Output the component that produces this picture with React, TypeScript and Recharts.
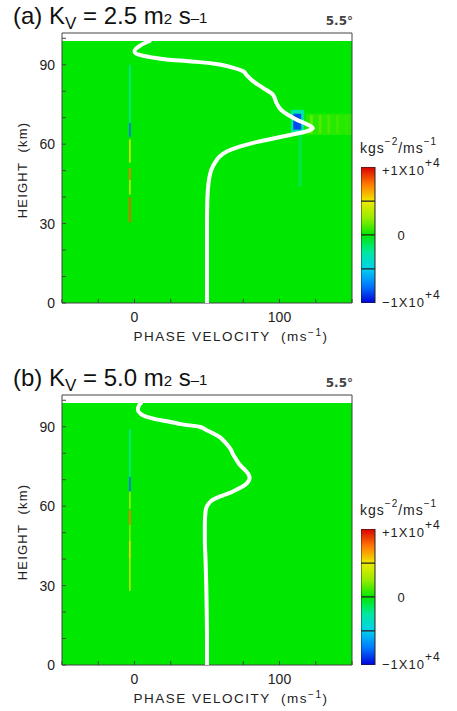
import React from "react"
import {
  ComposedChart, Scatter, XAxis, YAxis, ReferenceArea, Label,
  BarChart, Bar,
} from "recharts"

const FONT = '"Liberation Sans", Arial, Helvetica, sans-serif'
const AXIS = "#444"
const TEXT = "#222"

// axes
const velocityTicks = [-50, -25, 0, 25, 50, 75, 100, 125, 150]
const velocityLabels = [0, 100]
const heightTicks = [0, 10, 20, 30, 40, 50, 60, 70, 80, 90, 100]
const heightLabels = [0, 30, 60, 90]
const velocityRange = [-50, 150]
const heightRange = [0, 102]
const modelTop = 99 // km, top of the computed field

// background wind profile, [height km, phase velocity m/s]
const profileA: [number, number][] = [
  [0, 50], [10, 50], [20, 50], [30, 50], [38, 50.2], [42.7, 50.6], [47, 51.5],
  [50.3, 53], [53, 55.5], [55.3, 58.7], [57.3, 64], [59.1, 72.5], [60.5, 82],
  [61.6, 91], [63, 103], [64.2, 114], [65.3, 121], [66.1, 123], [67, 121],
  [68, 117], [69.2, 112], [71, 106], [73, 101], [75.5, 98], [78.7, 95.5],
  [81.3, 88.6], [83.8, 81.7], [86, 77.5], [87.6, 74.8], [89, 67], [90.1, 58.7],
  [91, 45], [91.4, 35.7], [92, 22], [92.7, 12.6], [93.4, 6], [93.9, 2.3],
  [94.6, 0.3], [95.2, 0], [96.2, 1.2], [97.1, 3.5], [98, 6.5], [99, 10.4],
]

const profileB: [number, number][] = [
  [0, 50], [10, 50], [20, 49.8], [30, 49.5], [40, 49], [47.3, 48.5], [53, 48.5],
  [58, 49], [60.5, 50.5], [62.4, 54], [63.8, 59.5], [65, 65.6], [66.3, 70.5],
  [67.5, 74.8], [69, 78], [70.6, 79.4], [72.2, 78.5], [73.8, 76], [75.7, 72.5],
  [77.6, 70.2], [79.5, 68], [81.3, 66.5], [83.2, 64], [85, 61], [86.2, 58.6],
  [87.6, 54], [88.8, 49.4], [90, 44.8], [90.9, 33], [91.9, 24.1], [92.8, 15],
  [93.8, 8], [95, 4], [96.4, 2.3], [98.3, 3.4], [99, 4.5],
]

// momentum flux patches (normalised to 1e4 kg s^-2 / m s^-1)
type Flux = { v1: number; v2: number; h1: number; h2: number; value: number }

const fluxA: Flux[] = [
  { v1: -3.8, v2: -2.6, h1: 68, h2: 90, value: -0.22 },
  { v1: -3.8, v2: -2.6, h1: 62.8, h2: 68, value: -0.75 },
  { v1: -3.8, v2: -2.6, h1: 53, h2: 61.8, value: 0.4 },
  { v1: -3.8, v2: -2.6, h1: 46.5, h2: 51, value: 0.75 },
  { v1: -3.8, v2: -2.6, h1: 41, h2: 46.5, value: 0.35 },
  { v1: -3.8, v2: -2.6, h1: 30.5, h2: 40, value: 0.8 },
  { v1: 118, v2: 150, h1: 63.5, h2: 71.5, value: 0.06 },
  { v1: 121, v2: 123, h1: 64, h2: 71, value: 0.16 },
  { v1: 127, v2: 129, h1: 64, h2: 71, value: 0.14 },
  { v1: 133, v2: 135, h1: 64, h2: 71, value: 0.12 },
  { v1: 139, v2: 141, h1: 64, h2: 71, value: 0.1 },
  { v1: 145, v2: 147, h1: 64, h2: 71, value: 0.08 },
  { v1: 113, v2: 115.5, h1: 44, h2: 64, value: -0.1 },
  { v1: 108, v2: 117, h1: 64.5, h2: 73, value: -0.28 },
  { v1: 109.5, v2: 115, h1: 65.5, h2: 71.5, value: -0.85 },
]

const fluxB: Flux[] = [
  { v1: -3.8, v2: -2.6, h1: 71, h2: 89, value: -0.22 },
  { v1: -3.8, v2: -2.6, h1: 65.5, h2: 71, value: -0.75 },
  { v1: -3.8, v2: -2.6, h1: 59, h2: 65.5, value: 0.25 },
  { v1: -3.8, v2: -2.6, h1: 53, h2: 58.5, value: 0.75 },
  { v1: -3.8, v2: -2.6, h1: 47, h2: 53, value: 0.2 },
  { v1: -3.8, v2: -2.6, h1: 40, h2: 47, value: 0.55 },
  { v1: -3.8, v2: -2.6, h1: 28, h2: 40, value: 0.3 },
]

// colour bar
const colorbarTicks = [-1, 0, 1]
const colorbarSegments = [
  { key: "s1", lo: 0, hi: 0.5 },
  { key: "s2", lo: 0.5, hi: 1 },
  { key: "s3", lo: -0.5, hi: 0 },
  { key: "s4", lo: -1, hi: -0.5 },
]
const colorbarData = [
  colorbarSegments.reduce(
    (row: any, s) => ({ ...row, [s.key]: s.lo >= 0 ? s.hi - s.lo : s.lo - s.hi }),
    { name: "cb" }
  ),
]

const colorStops: [number, string][] = [
  [-1, "#0000d8"], [-0.75, "#0078ff"], [-0.5, "#00d0f0"], [-0.25, "#00e8a0"],
  [0, "#00e800"], [0.25, "#98ec00"], [0.5, "#f0e800"], [0.75, "#ff7800"], [1, "#d80000"],
]

const hexToRgb = (h: string) => [1, 3, 5].map((i) => parseInt(h.slice(i, i + 2), 16))

const colorFor = (value: number) => {
  const t = Math.max(-1, Math.min(1, value))
  for (let i = 0; i < colorStops.length - 1; i++) {
    const [a, ca] = colorStops[i]
    const [b, cb] = colorStops[i + 1]
    if (t >= a && t <= b) {
      const f = (t - a) / (b - a)
      const A = hexToRgb(ca)
      const B = hexToRgb(cb)
      return `rgb(${A.map((x, k) => Math.round(x + (B[k] - x) * f)).join(",")})`
    }
  }
  return colorStops[colorStops.length - 1][1]
}

const toPoints = (p: [number, number][]) => p.map(([h, v]) => ({ h, v }))

const NoDot = () => <g />

const VelocityLabel = (props: any) => {
  const vb = props.viewBox ?? { x: 62, y: 303, width: 290, height: 45 }
  const cx = vb.x + vb.width / 2 + 24
  const y = vb.y + 38
  return (
    <text x={cx} y={y} textAnchor="middle" fontSize={13.5} letterSpacing={1.5}
      fill={TEXT} fontFamily={FONT} style={{ whiteSpace: "pre" }}>
      {"PHASE VELOCITY  (ms"}
      <tspan dy={-5} fontSize={10}>−1</tspan>
      <tspan dy={5}>)</tspan>
    </text>
  )
}

const HeightLabel = (props: any) => {
  const vb = props.viewBox ?? { x: 0, y: 33, width: 62, height: 270 }
  const cx = vb.x + 22
  const cy = vb.y + vb.height / 2 + 2
  return (
    <text x={cx} y={cy} transform={`rotate(-90 ${cx} ${cy})`} textAnchor="middle"
      dominantBaseline="central" fontSize={13} letterSpacing={1.2} fill={TEXT}
      fontFamily={FONT} style={{ whiteSpace: "pre" }}>
      {"HEIGHT  (km)"}
    </text>
  )
}

const ColorbarTick = (props: any) => {
  const { x, y, payload } = props
  const v = payload.value
  if (v === 0) {
    return (
      <text x={x + 19} y={y + 5} textAnchor="middle" fontSize={13} fill={TEXT} fontFamily={FONT}>0</text>
    )
  }
  const dy = v > 0 ? 8 : 3.5
  return (
    <text x={x} y={y + dy} fontSize={13} letterSpacing={1} fill={TEXT} fontFamily={FONT}>
      {v > 0 ? "+1X10" : "−1X10"}
      <tspan dy={-8} fontSize={12}>+4</tspan>
    </text>
  )
}

const Colorbar = ({ id }: { id: string }) => (
  <BarChart width={96} height={160} data={colorbarData} stackOffset="sign" barCategoryGap={0}
    margin={{ top: 12, right: 0, bottom: 12, left: 0 }}>
    <defs>
      {colorbarSegments.map((s) => (
        <linearGradient key={s.key} id={`${id}-${s.key}`} x1="0" y1="0" x2="0" y2="1">
          <stop offset="0%" stopColor={colorFor(s.hi)} />
          <stop offset="50%" stopColor={colorFor((s.hi + s.lo) / 2)} />
          <stop offset="100%" stopColor={colorFor(s.lo)} />
        </linearGradient>
      ))}
    </defs>
    <XAxis dataKey="name" type="category" hide />
    <YAxis orientation="right" type="number" domain={[-1, 1]} ticks={colorbarTicks} interval={0}
      width={82} axisLine={false} tickLine={false} tickSize={0} tickMargin={7}
      tick={<ColorbarTick />} allowDataOverflow />
    {colorbarSegments.map((s) => (
      <Bar key={s.key} dataKey={s.key} stackId="cb" fill={`url(#${id}-${s.key})`}
        stroke="#222" strokeWidth={1} isAnimationActive={false} />
    ))}
  </BarChart>
)

type PanelProps = {
  id: string
  top: number
  tag: string
  kv: string
  profile: [number, number][]
  flux: Flux[]
}

const Panel = ({ id, top, tag, kv, profile, flux }: PanelProps) => (
  <div style={{ position: "absolute", left: 0, top, width: 457, height: 349 }}>
    <ComposedChart width={457} height={348} margin={{ top: 28, right: 100, bottom: 0, left: 0 }}>
      <ReferenceArea x1={-50} x2={150} y1={0} y2={modelTop} fill={colorFor(0)}
        fillOpacity={1} stroke="none" />
      {flux.map((f, i) => (
        <ReferenceArea key={i} x1={f.v1} x2={f.v2} y1={f.h1} y2={f.h2}
          fill={colorFor(f.value)} fillOpacity={1} stroke="none" />
      ))}
      <Scatter data={toPoints(profile)} fill="#fff" shape={NoDot}
        line={{ stroke: "#fff", strokeWidth: 4, strokeLinecap: "round" }}
        lineJointType="monotoneY" isAnimationActive={false} />

      <XAxis type="number" dataKey="v" domain={velocityRange} ticks={velocityTicks} interval={0}
        allowDataOverflow height={45} tickSize={-4} tickMargin={13}
        axisLine={{ stroke: AXIS }} tickLine={{ stroke: AXIS }}
        tick={{ fontSize: 14, fill: TEXT, fontFamily: FONT }}
        tickFormatter={(v: number) => (velocityLabels.includes(v) ? String(v) : "")}>
        <Label content={VelocityLabel} />
      </XAxis>
      <XAxis xAxisId="top" orientation="top" type="number" domain={velocityRange}
        ticks={velocityTicks} interval={0} allowDataOverflow height={5} tickSize={-4}
        tick={false} axisLine={{ stroke: AXIS }} tickLine={{ stroke: AXIS }} />
      <YAxis type="number" dataKey="h" domain={heightRange} ticks={heightTicks} interval={0}
        allowDataOverflow width={62} tickSize={-4} tickMargin={11}
        axisLine={{ stroke: AXIS }} tickLine={{ stroke: AXIS }}
        tick={{ fontSize: 14, fill: TEXT, fontFamily: FONT }}
        tickFormatter={(v: number) => (heightLabels.includes(v) ? String(v) : "")}>
        <Label content={HeightLabel} />
      </YAxis>
      <YAxis yAxisId="right" orientation="right" type="number" domain={heightRange}
        ticks={heightTicks} interval={0} allowDataOverflow width={5} tickSize={-4}
        tick={false} axisLine={{ stroke: AXIS }} tickLine={{ stroke: AXIS }} />
    </ComposedChart>

    <div style={{ position: "absolute", left: 361, top: 155 }}>
      <Colorbar id={id} />
    </div>

    <svg width={457} height={349} style={{ position: "absolute", left: 0, top: 0, pointerEvents: "none" }}>
      <text x={13} y={24} fontSize={24} fill="#111" fontFamily={FONT} style={{ whiteSpace: "pre" }}>
        {`${tag} K`}
        <tspan fontSize={17} dy={5}>V</tspan>
        <tspan dy={-5}>{` = ${kv} m`}</tspan>
        <tspan fontSize={15}>2</tspan>
        <tspan>{" s"}</tspan>
        <tspan fontSize={15} dy={-1}>–1</tspan>
      </text>
      <text x={353} y={25} textAnchor="end" fontSize={12} fontWeight="bold" fill="#444"
        fontFamily='"DejaVu Sans", sans-serif'>5.5°</text>
      <text x={360} y={153} fontSize={14} letterSpacing={1} fill={TEXT} fontFamily={FONT}>
        kgs
        <tspan dy={-8} fontSize={10}>−2</tspan>
        <tspan dy={8}>/ms</tspan>
        <tspan dy={-8} fontSize={10}>−1</tspan>
      </text>
    </svg>
  </div>
)

export default function App() {
  return (
    <div style={{ position: "absolute", left: 0, top: 0, width: 457, height: 711, background: "#fff" }}>
      <Panel id="pa" top={0} tag="(a)" kv="2.5" profile={profileA} flux={fluxA} />
      <Panel id="pb" top={362} tag="(b)" kv="5.0" profile={profileB} flux={fluxB} />
    </div>
  )
}
